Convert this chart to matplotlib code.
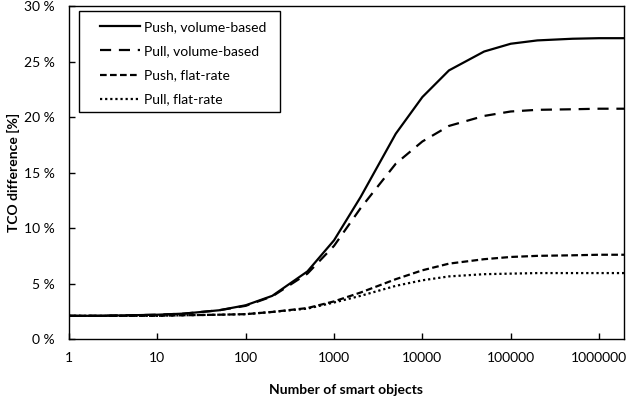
import matplotlib
matplotlib.use("Agg")
import matplotlib.pyplot as plt
from matplotlib.patches import Rectangle
from matplotlib.ticker import FixedLocator, FuncFormatter, NullLocator

plt.rcParams['font.family'] = ['Lato', 'DejaVu Sans']

x_objects = [1, 2, 5, 10, 20, 50, 100, 200, 500, 1000, 2000, 5000,
             10000, 20000, 50000, 100000, 200000, 500000, 1000000, 2000000]
push_volume = [2.1, 2.1, 2.15, 2.2, 2.3, 2.6, 3.05, 3.9, 6.1, 8.9, 12.8, 18.5,
               21.8, 24.2, 25.9, 26.6, 26.9, 27.05, 27.1, 27.1]
pull_volume = [2.1, 2.1, 2.15, 2.2, 2.3, 2.6, 3.0, 3.85, 5.9, 8.4, 11.8, 15.8,
               17.8, 19.2, 20.1, 20.5, 20.65, 20.7, 20.75, 20.75]
push_flat = [2.1, 2.1, 2.1, 2.1, 2.15, 2.2, 2.25, 2.45, 2.8, 3.4, 4.2, 5.4,
             6.2, 6.8, 7.2, 7.4, 7.5, 7.55, 7.6, 7.6]
pull_flat = [2.1, 2.1, 2.1, 2.1, 2.15, 2.2, 2.25, 2.45, 2.75, 3.3, 3.9, 4.8,
             5.3, 5.65, 5.85, 5.9, 5.95, 5.95, 5.95, 5.95]
series_labels = ["Push, volume-based", "Pull, volume-based", "Push, flat-rate", "Pull, flat-rate"]
x_ticks = [1, 10, 100, 1000, 10000, 100000, 1000000]
y_ticks = [0, 5, 10, 15, 20, 25, 30]

fig = plt.figure(figsize=(6.3, 3.99), dpi=100)
ax = fig.add_axes([0.1095, 0.150, 0.8805, 0.835])

ax.plot(x_objects, push_volume, color='black', lw=1.6, linestyle='-', label=series_labels[0])
ax.plot(x_objects, pull_volume, color='black', lw=1.6, linestyle=(0, (5, 3.5)), label=series_labels[1])
ax.plot(x_objects, push_flat, color='black', lw=1.6, linestyle=(0, (3, 1.5)), label=series_labels[2])
ax.plot(x_objects, pull_flat, color='black', lw=1.6, linestyle=(0, (1, 1.3)), label=series_labels[3])

ax.set_xscale('log')
ax.set_xlim(1, 1.9e6)
ax.set_ylim(0, 30)
ax.xaxis.set_major_locator(FixedLocator(x_ticks))
ax.xaxis.set_minor_locator(NullLocator())
ax.xaxis.set_major_formatter(FuncFormatter(lambda v, p: f"{int(round(v))}"))
ax.yaxis.set_major_locator(FixedLocator(y_ticks))
ax.yaxis.set_major_formatter(FuncFormatter(lambda v, p: f"{int(round(v))} %"))
ax.tick_params(axis='both', direction='in', length=4, width=1, labelsize=10, colors='black')
ax.tick_params(axis='x', pad=9)
ax.tick_params(axis='y', pad=10)
for s in ax.spines.values():
    s.set_color('black')
    s.set_linewidth(1.0)

ax.set_xlabel("Number of smart objects", fontsize=10, fontweight='bold', labelpad=15)
ax.set_ylabel("TCO difference [%]", fontsize=10, fontweight='bold', labelpad=3)

# legend frame drawn separately to match the reference padding
ax.add_patch(Rectangle((0.018, 0.682), 0.362, 0.303, transform=ax.transAxes,
                       facecolor='white', edgecolor='black', lw=1.0, zorder=4))
leg = ax.legend(loc='upper left', bbox_to_anchor=(0.056, 0.955), fontsize=10,
                frameon=False, handlelength=2.9,
                labelspacing=0.88, borderpad=0, handletextpad=0.25, borderaxespad=0)
leg.set_zorder(5)

fig.savefig("out.png", dpi=100)
